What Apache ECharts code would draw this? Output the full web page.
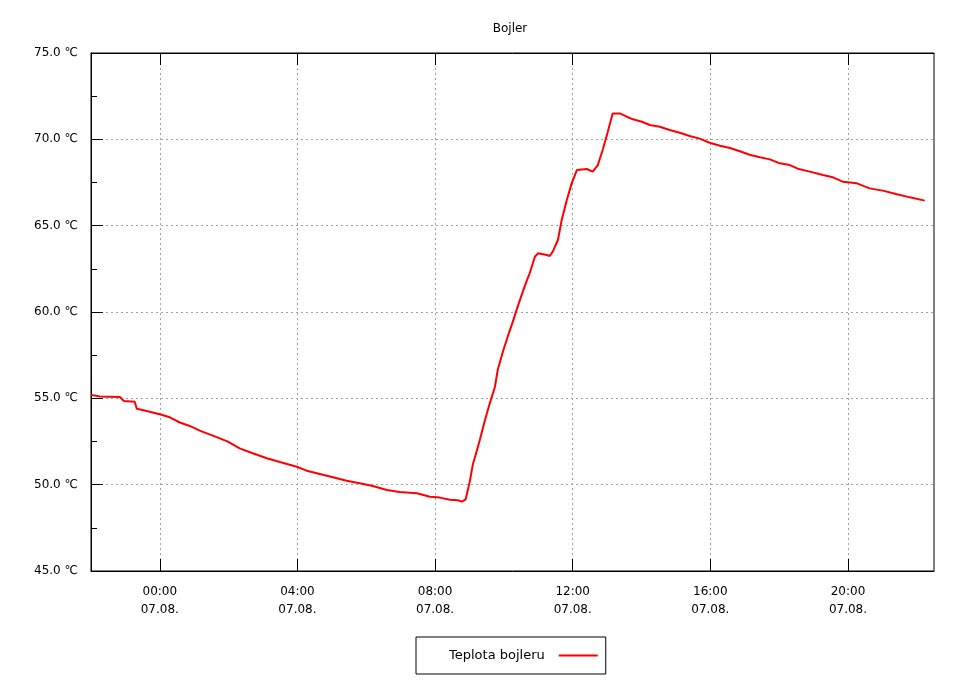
<!DOCTYPE html>
<html>
<head>
<meta charset="utf-8">
<script src="https://cdn.jsdelivr.net/npm/echarts@6/dist/echarts.min.js"></script>
<style>html,body{margin:0;padding:0;background:#fff}#c{width:960px;height:680px}</style>
</head>
<body>
<div id="c"></div>
<script>
// hours relative to 07.08. 00:00
var hours = [-2.0,-1.74,-1.16,-1.05,-0.73,-0.67,-0.44,0,0.29,0.58,0.87,1.16,1.54,1.98,2.32,2.70,3.11,3.49,3.98,4.27,4.65,5.03,5.43,5.81,6.19,6.60,6.97,7.47,7.85,8.14,8.43,8.66,8.78,8.89,9.01,9.10,9.15,9.30,9.45,9.59,9.74,9.82,9.97,10.11,10.26,10.40,10.55,10.67,10.75,10.90,10.99,11.25,11.33,11.42,11.57,11.68,11.83,11.97,12.12,12.41,12.58,12.73,12.87,13.02,13.16,13.37,13.57,13.75,14.01,14.24,14.53,14.82,15.11,15.40,15.69,15.98,16.28,16.57,16.86,17.14,17.44,17.73,18.02,18.31,18.54,18.89,19.27,19.56,19.85,20.26,20.63,21.01,21.42,21.80,22.23];
var temps = [55.2,55.1,55.08,54.85,54.8,54.4,54.3,54.08,53.9,53.6,53.4,53.13,52.84,52.49,52.1,51.82,51.53,51.31,51.04,50.81,50.62,50.43,50.23,50.08,49.92,49.69,49.58,49.5,49.3,49.25,49.13,49.1,49.02,49.15,50.2,51.2,51.53,52.59,53.75,54.71,55.67,56.64,57.7,58.57,59.44,60.31,61.18,61.85,62.24,63.2,63.4,63.3,63.24,63.5,64.17,65.33,66.5,67.45,68.22,68.28,68.13,68.51,69.38,70.44,71.5,71.5,71.31,71.16,71.02,70.83,70.73,70.54,70.38,70.19,70.04,69.8,69.63,69.5,69.31,69.11,68.96,68.84,68.61,68.51,68.3,68.13,67.93,67.8,67.55,67.45,67.16,67.03,66.82,66.64,66.45];
var xTickHours = [0,4,8,12,16,20];
var xTickTimes = ['00:00','04:00','08:00','12:00','16:00','20:00'];
var xTickDates = ['07.08.','07.08.','07.08.','07.08.','07.08.','07.08.'];
var seriesName = 'Teplota bojleru';
var chartTitle = 'Bojler';

var data = hours.map(function(h,i){return [h,temps[i]];});
var font = 'DejaVu Sans';
var chart = echarts.init(document.getElementById('c'));
var gridLine = {show:true,lineStyle:{color:'#a0a0a0',type:[2,3],width:1}};
chart.setOption({
  animation:false,
  backgroundColor:'#fff',
  title:{text:chartTitle,left:505,top:18,textAlign:'center',textStyle:{fontFamily:font,fontSize:12,fontWeight:'normal',color:'#000'}},
  grid:{left:91,right:26,top:53,bottom:109,show:true,borderColor:'#000',borderWidth:1,containLabel:false},
  legend:{
    data:[seriesName],left:416,top:637,align:'right',
    padding:[12,8,12,33],
    borderColor:'#000',borderWidth:1,
    itemWidth:39,itemHeight:2,icon:'rect',
    textStyle:{fontFamily:font,fontSize:13,color:'#000',padding:[0,9,0,0]}
  },
  xAxis:[{
    type:'value',min:-2,max:22.5,interval:2,
    axisLine:{show:true,onZero:false,lineStyle:{color:'#000'}},
    axisTick:{show:true,inside:true,length:12,customValues:xTickHours,lineStyle:{color:'#000'}},
    axisLabel:{show:true,customValues:xTickHours,margin:12,fontFamily:font,fontSize:12,color:'#000',lineHeight:18,
      formatter:function(v){var i=xTickHours.indexOf(v);return i<0?'':xTickTimes[i]+'\n'+xTickDates[i];}},
    splitLine:gridLine
  },{
    type:'value',position:'top',min:-2,max:22.5,interval:2,
    axisLine:{show:true,onZero:false,lineStyle:{color:'#000'}},
    axisTick:{show:true,inside:true,length:12,customValues:xTickHours,lineStyle:{color:'#000'}},
    axisLabel:{show:false},splitLine:{show:false}
  }],
  yAxis:{
    type:'value',min:45,max:75,interval:5,
    axisLine:{show:true,onZero:false,lineStyle:{color:'#000'}},
    axisTick:{show:true,inside:true,length:12,lineStyle:{color:'#000'}},
    minorTick:{show:true,splitNumber:2,length:6,lineStyle:{color:'#000'}},
    axisLabel:{margin:13,fontFamily:font,fontSize:12,color:'#000',formatter:function(v){return v.toFixed(1)+' ℃';}},
    splitLine:gridLine
  },
  series:[{
    name:seriesName,type:'line',data:data,showSymbol:false,symbol:'none',
    lineStyle:{color:'#ff0000',width:2},itemStyle:{color:'#ff0000'}
  }]
});
</script>
</body>
</html>
